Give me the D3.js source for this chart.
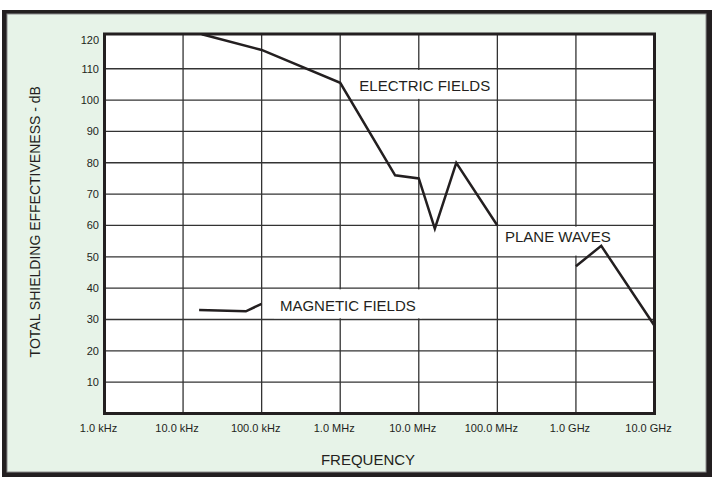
<!DOCTYPE html>
<html>
<head>
<meta charset="utf-8">
<script src="https://cdn.jsdelivr.net/npm/d3@7/dist/d3.min.js"></script>
<style>
  html, body { margin: 0; padding: 0; background: #ffffff; }
  svg { display: block; }
  text { font-family: "Liberation Sans", Arial, sans-serif; fill: #231f20; }
</style>
</head>
<body>
<svg id="chart" width="712" height="477"></svg>
<script>
// ---- data ----
const xTickValues = [1e3, 1e4, 1e5, 1e6, 1e7, 1e8, 1e9, 1e10];
const xTickLabels = ["1.0 kHz", "10.0 kHz", "100.0 kHz", "1.0 MHz", "10.0 MHz", "100.0 MHz", "1.0 GHz", "10.0 GHz"];
const yTickValues = [10, 20, 30, 40, 50, 60, 70, 80, 90, 100, 110, 120];
const yGridValues = [10, 20, 30, 40, 50, 60, 70, 80, 90, 100, 110];

const electricFreq  = [1.73e4, 1e5, 1e6, 5e6, 1e7, 1.6e7, 3e7, 1e8];
const electricValue = [121, 116, 105.5, 76, 75, 59, 80, 60];
const planeFreq     = [1e9, 2.1e9, 1e10];
const planeValue    = [47, 53.5, 28];
const magneticFreq  = [1.6e4, 6.3e4, 1e5];
const magneticValue = [33, 32.6, 35];

const annotationText  = ["ELECTRIC FIELDS", "PLANE WAVES", "MAGNETIC FIELDS"];
const annotationFreq  = [1.75e6, 1.25e8, 1.71e5];
const annotationValue = [103, 54.7, 32.8];
const annotationBandLow  = [100, 50, 30];
const annotationBandHigh = [110, 60, 40];

const yTitle = "TOTAL SHIELDING EFFECTIVENESS - dB";
const xTitle = "FREQUENCY";

// ---- layout ----
const svg = d3.select("#chart");
const plot = { left: 104.5, right: 654.5, top: 34, bottom: 413.5 };

const x = d3.scaleLog().domain([1e3, 1e10]).range([plot.left, plot.right]);
const y = d3.scaleLinear().domain([0, 120]).range([plot.bottom, 37.4]);

// outer frame
svg.append("rect").attr("x", 2).attr("y", 10).attr("width", 710).attr("height", 467).attr("fill", "#231f20");
svg.append("rect").attr("x", 7).attr("y", 14).attr("width", 699).attr("height", 458)
   .attr("fill", "#e7f3e8").attr("stroke", "#8c8c8c").attr("stroke-width", 1);

// plot background
svg.append("rect").attr("x", plot.left).attr("y", plot.top)
   .attr("width", plot.right - plot.left).attr("height", plot.bottom - plot.top)
   .attr("fill", "#ffffff");

// grid
const grid = svg.append("g").attr("stroke", "#333333").attr("stroke-width", 1.3);
grid.selectAll("line.h").data(yGridValues).join("line").attr("class", "h")
  .attr("x1", plot.left).attr("x2", plot.right)
  .attr("y1", d => y(d)).attr("y2", d => y(d));
grid.selectAll("line.v").data(xTickValues.slice(1, -1)).join("line").attr("class", "v")
  .attr("y1", plot.top).attr("y2", plot.bottom)
  .attr("x1", d => x(d)).attr("x2", d => x(d));

// annotation backgrounds + text
const ann = svg.append("g");
annotationText.forEach((t, i) => {
  const g = ann.append("g");
  const rect = g.append("rect").attr("fill", "#ffffff");
  const txt = g.append("text")
    .attr("x", x(annotationFreq[i])).attr("y", y(annotationValue[i]))
    .attr("font-size", 15).text(t);
  const bb = txt.node().getBBox();
  rect.attr("x", bb.x - 6).attr("width", bb.width + 12)
      .attr("y", y(annotationBandHigh[i]) + 1.2)
      .attr("height", y(annotationBandLow[i]) - y(annotationBandHigh[i]) - 2.4);
});

// plot border
svg.append("rect").attr("x", plot.left).attr("y", plot.top)
   .attr("width", plot.right - plot.left).attr("height", plot.bottom - plot.top)
   .attr("fill", "none").attr("stroke", "#231f20").attr("stroke-width", 3);

// lines
const line = d3.line().x(d => x(d[0])).y(d => y(d[1]));
const series = [
  d3.zip(electricFreq, electricValue),
  d3.zip(planeFreq, planeValue),
  d3.zip(magneticFreq, magneticValue)
];
svg.append("g").selectAll("path").data(series).join("path")
  .attr("d", line).attr("fill", "none")
  .attr("stroke", "#231f20").attr("stroke-width", 2.5)
  .attr("stroke-linejoin", "miter");

// axes labels
svg.append("g").selectAll("text").data(xTickValues).join("text")
  .attr("x", d => x(d) - 6).attr("y", 432)
  .attr("text-anchor", "middle").attr("font-size", 11)
  .text((d, i) => xTickLabels[i]);

svg.append("g").selectAll("text").data(yTickValues).join("text")
  .attr("x", plot.left - 5.5).attr("y", d => Math.max(y(d), y(120) + 3))
  .attr("dy", "0.36em")
  .attr("text-anchor", "end").attr("font-size", 11)
  .text(d => d);

// titles
svg.append("text").attr("x", 368).attr("y", 465)
  .attr("text-anchor", "middle").attr("font-size", 15).text(xTitle);

svg.append("text")
  .attr("transform", `translate(40, ${(plot.top + plot.bottom) / 2 - 2}) rotate(-90)`)
  .attr("text-anchor", "middle").attr("font-size", 14).text(yTitle);
</script>
</body>
</html>
